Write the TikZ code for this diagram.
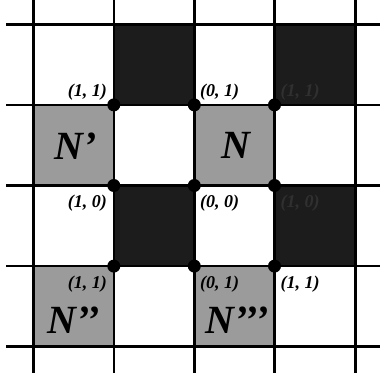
\documentclass[tikz,border=0pt]{standalone}
\usepackage{fontspec}
\setmainfont{Liberation Serif}
\definecolor{darkcell}{HTML}{1C1C1C}
\definecolor{graycell}{HTML}{9B9B9B}
\definecolor{dimtext}{HTML}{303030}
\begin{document}
\begin{tikzpicture}[x=1pt,y=-1pt,
  gridline/.style={line width=2.6pt,black},
  darkfill/.style={fill=darkcell},
  grayfill/.style={fill=graycell},
  corner/.style={circle,fill=black,inner sep=0pt,minimum size=13pt},
  coordlabel/.style={inner sep=0pt,font=\fontsize{18}{18}\selectfont\bfseries\itshape},
  bigname/.style={inner sep=0pt,anchor=base,font=\fontsize{40}{40}\selectfont\bfseries\itshape}]
\useasboundingbox (0,0) rectangle (380,377);
\def\xa{33.3}\def\xb{113.8}\def\xc{194.3}\def\xd{274.5}\def\xe{355.2}
\def\ya{24.3}\def\yb{104.9}\def\yc{185.5}\def\yd{266.1}\def\ye{346.7}
% filled cells
\fill[darkfill] (\xb,\ya) rectangle (\xc,\yb);
\fill[darkfill] (\xd,\ya) rectangle (\xe,\yb);
\fill[darkfill] (\xb,\yc) rectangle (\xc,\yd);
\fill[darkfill] (\xd,\yc) rectangle (\xe,\yd);
\fill[grayfill] (\xa,\yb) rectangle (\xb,\yc);
\fill[grayfill] (\xc,\yb) rectangle (\xd,\yc);
\fill[grayfill] (\xa,\yd) rectangle (\xb,\ye);
\fill[grayfill] (\xc,\yd) rectangle (\xd,\ye);
% grid
\foreach \x in {\xa,\xb,\xc,\xd,\xe} \draw[gridline] (\x,0) -- (\x,373);
\foreach \y in {\ya,\yb,\yc,\yd,\ye} \draw[gridline] (6,\y) -- (380,\y);
% corner dots
\node[corner] (p11) at (\xb,\yb) {};
\node[corner] (p12) at (\xc,\yb) {};
\node[corner] (p13) at (\xd,\yb) {};
\node[corner] (p21) at (\xb,\yc) {};
\node[corner] (p22) at (\xc,\yc) {};
\node[corner] (p23) at (\xd,\yc) {};
\node[corner] (p31) at (\xb,\yd) {};
\node[corner] (p32) at (\xc,\yd) {};
\node[corner] (p33) at (\xd,\yd) {};
% coordinate labels
\node[coordlabel,anchor=base east] (l11) at (107,97) {(1, 1)};
\node[coordlabel,anchor=base west] (l12) at (200,97) {(0, 1)};
\node[coordlabel,anchor=base west,text=dimtext] (l13) at (280.5,97) {(1, 1)};
\node[coordlabel,anchor=base east] (l21) at (107,207) {(1, 0)};
\node[coordlabel,anchor=base west] (l22) at (200,207) {(0, 0)};
\node[coordlabel,anchor=base west,text=dimtext] (l23) at (280.5,207) {(1, 0)};
\node[coordlabel,anchor=base east] (l31) at (107,288) {(1, 1)};
\node[coordlabel,anchor=base west] (l32) at (200,288) {(0, 1)};
\node[coordlabel,anchor=base west] (l33) at (280.5,288) {(1, 1)};
% names
\node[bigname] (n1) at (76,159) {N’};
\node[bigname] (n0) at (236,158) {N};
\node[bigname] (n2) at (74,333) {N’’};
\node[bigname] (n3) at (237,333) {N’’’};
\end{tikzpicture}
\end{document}
